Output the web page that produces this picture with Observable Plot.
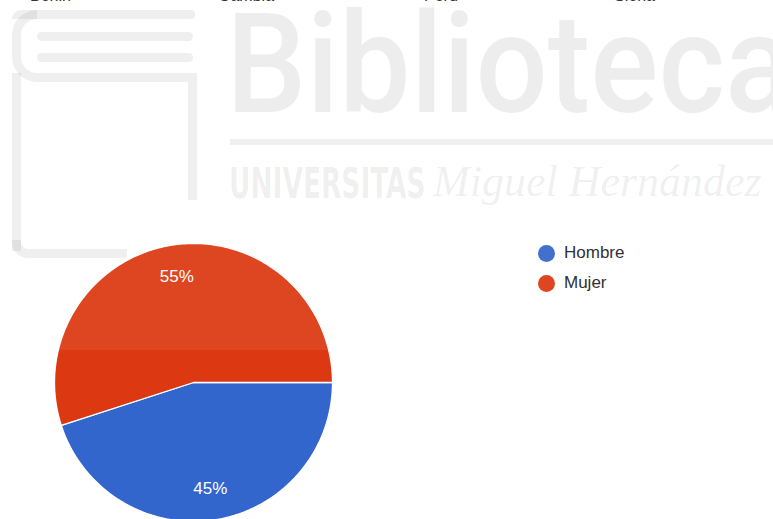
<!DOCTYPE html>
<html>
<head>
<meta charset="utf-8">
<script src="https://cdn.jsdelivr.net/npm/d3@7"></script>
<script src="https://cdn.jsdelivr.net/npm/@observablehq/plot@0.6"></script>
<style>
  html, body { margin: 0; padding: 0; background: #fff; }
  #wrap { position: relative; width: 773px; height: 519px; overflow: hidden; font-family: "Liberation Sans", Arial, sans-serif; }
  #chart { position: absolute; left: 0; top: 0; }
  .top { position: absolute; top: -13px; font-size: 16px; color: #222; }
  #legend { position: absolute; left: 538px; top: 238px; font-size: 17px; color: #222; }
  .item { display: flex; align-items: center; height: 30px; }
  .sw { width: 17px; height: 17px; border-radius: 50%; margin-right: 9px; }
  .wm { position: absolute; color: rgba(0,0,0,0.075); pointer-events: none; white-space: nowrap; }
</style>
</head>
<body>
<div id="wrap">
  <div id="chart"></div>
  <div id="legend"></div>
</div>
<script>
// Data
const categories = ["Hombre", "Mujer"];
const shares = [45, 55];
const sliceColors = ["#3366cc", "#dc3912"];
const previousLabels = ["Benin", "Gambia", "Perú", "Siena"];
const previousLabelX = [30, 218, 424, 614];

const wrap = document.getElementById("wrap");

// Pie geometry from d3.pie (angles clockwise from 12 o'clock, starting at 3 o'clock)
const arcs = d3.pie().sort(null).startAngle(Math.PI / 2).endAngle(Math.PI / 2 + 2 * Math.PI)(shares);
const pts = [];
const labelPts = [];
arcs.forEach((a, i) => {
  const cat = categories[i];
  pts.push({cat, x: 0, y: 0});
  const n = 180;
  for (let k = 0; k <= n; k++) {
    const t = a.startAngle + (a.endAngle - a.startAngle) * k / n;
    pts.push({cat, x: Math.sin(t), y: -Math.cos(t)});
  }
  pts.push({cat, x: 0, y: 0});
  const m = (a.startAngle + a.endAngle) / 2;
  labelPts.push({cat, x: 0.77 * Math.sin(m), y: -0.77 * Math.cos(m), text: Math.round(shares[i] / d3.sum(shares) * 100) + "%"});
});

const chart = Plot.plot({
  width: 773,
  height: 519,
  style: {background: "transparent", fontFamily: "'Liberation Sans', Arial, sans-serif"},
  x: {domain: [-1, 1], range: [54, 332], axis: null},
  y: {domain: [-1, 1], range: [243, 521], axis: null},
  color: {domain: categories, range: sliceColors},
  marks: [
    Plot.line(pts, {x: "x", y: "y", z: "cat", fill: "cat", stroke: "white", strokeWidth: 1.3, curve: "linear"}),
    Plot.text(labelPts, {x: "x", y: "y", text: "text", fill: "white", fontSize: 17})
  ]
});
document.getElementById("chart").appendChild(chart);

// Legend
const legend = document.getElementById("legend");
categories.forEach((c, i) => {
  const it = document.createElement("div");
  it.className = "item";
  it.innerHTML = `<div class="sw" style="background:${sliceColors[i]}"></div><span>${c}</span>`;
  legend.appendChild(it);
});

// Cut-off labels from the previous chart
previousLabels.forEach((t, i) => {
  const d = document.createElement("div");
  d.className = "top";
  d.style.left = previousLabelX[i] + "px";
  d.textContent = t;
  wrap.appendChild(d);
});

// Watermark (library logo)
function wm(html, css) {
  const d = document.createElement("div");
  d.className = "wm";
  d.innerHTML = html;
  Object.assign(d.style, css);
  wrap.appendChild(d);
}
const g = "rgba(0,0,0,0.065)";
wm("Biblioteca", {left: "226px", top: "-6px", fontSize: "140px", lineHeight: "140px", fontFamily: "Roboto, sans-serif", fontWeight: "500", transform: "scaleX(0.91)", transformOrigin: "left top"});
wm("", {left: "230px", top: "139px", width: "560px", height: "6px", background: g});
wm("UNIVERSITAS", {left: "229px", top: "161px", fontSize: "42px", lineHeight: "46px", fontFamily: "'Liberation Sans Narrow', 'DejaVu Sans Condensed', sans-serif", fontWeight: "700", transform: "scaleX(0.7)", transformOrigin: "left top"});
wm("Miguel Hernández", {left: "433px", top: "157px", fontSize: "44px", lineHeight: "50px", fontFamily: "'Liberation Serif', serif", fontStyle: "italic"});
// book outline
wm("", {left: "12px", top: "10px", width: "183px", height: "9px", borderRadius: "9px 4px 4px 0", background: g});
wm("", {left: "12px", top: "10px", width: "25px", height: "72px", borderTop: "9px solid " + g, borderLeft: "9px solid " + g, borderBottom: "9px solid " + g, borderRadius: "28px 0 0 28px", boxSizing: "border-box"});
wm("", {left: "12px", top: "73px", width: "9px", height: "178px", background: g});
wm("", {left: "12px", top: "240px", width: "115px", height: "18px", borderLeft: "9px solid " + g, borderBottom: "9px solid " + g, borderRadius: "0 0 0 16px", boxSizing: "border-box"});
wm("", {left: "37px", top: "73px", width: "160px", height: "9px", background: g});
wm("", {left: "188px", top: "82px", width: "9px", height: "118px", background: g});
wm("", {left: "37px", top: "32px", width: "156px", height: "9px", borderRadius: "5px", background: g});
wm("", {left: "37px", top: "53px", width: "156px", height: "9px", borderRadius: "5px", background: g});
wm("", {left: "0px", top: "0px", width: "773px", height: "350px", background: "rgba(255,255,255,0.07)"});
</script>
</body>
</html>
